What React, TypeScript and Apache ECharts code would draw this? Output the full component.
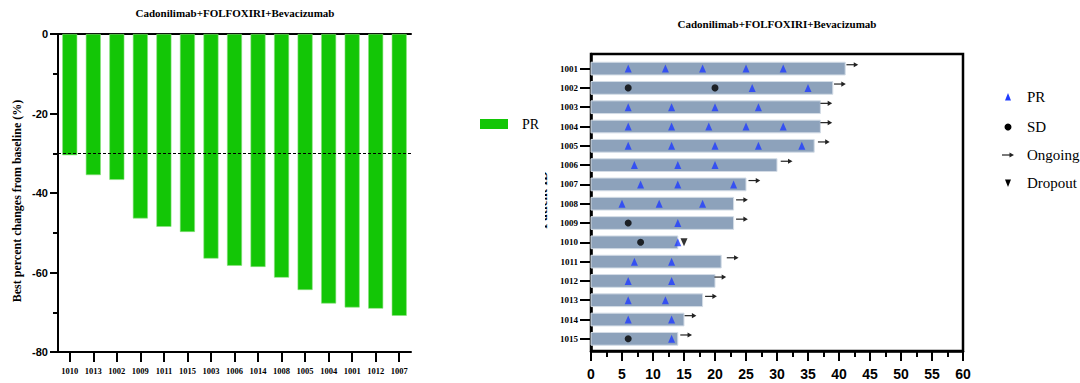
import React, { useEffect, useRef } from "react";
import * as echarts from "echarts";

// ---------- Left: waterfall ----------
const waterfallIds = ["1010", "1013", "1002", "1009", "1011", "1015", "1003", "1006", "1014", "1008", "1005", "1004", "1001", "1012", "1007"];
const bestChange = [-30.5, -35.5, -36.7, -46.4, -48.5, -49.8, -56.5, -58.3, -58.6, -61.3, -64.4, -67.8, -68.8, -69.1, -70.9];
const prThreshold = -30;

// ---------- Right: swimmer ----------
const patientIds = ["1001", "1002", "1003", "1004", "1005", "1006", "1007", "1008", "1009", "1010", "1011", "1012", "1013", "1014", "1015"];
const durations = [41, 39, 37, 37, 36, 30, 25, 23, 23, 14, 21, 20, 18, 15, 14];
const prTimes = [
  [6, 12, 18, 25, 31],
  [26, 35],
  [6, 13, 20, 27],
  [6, 13, 19, 25, 31],
  [6, 13, 20, 27, 34],
  [7, 14, 20],
  [8, 14, 23],
  [5, 11, 18],
  [14],
  [14],
  [7, 13],
  [6, 13],
  [6, 12],
  [6, 13],
  [13],
];
const sdTimes = [[], [6, 20], [], [], [], [], [], [], [6], [8], [], [], [], [], [6]];
const dropoutTimes = [[], [], [], [], [], [], [], [], [], [15], [], [], [], [], []];
const ongoingStart = [41.2, 39.2, 37.0, 37.0, 36.6, 30.6, 25.4, 23.4, 23.4, null, 21.9, 19.9, 18.4, 15.1, 14.4];

const GREEN = "#13c606";
const BLUE = "#1f3cff";
const BAR = "#8da2bb";
const SERIF = "Liberation Serif";
const SANS = "Liberation Sans";

function flatten(times: number[][]) {
  const out: number[][] = [];
  times.forEach((arr, i) => arr.forEach((t) => out.push([t, i + 1])));
  return out;
}

function txt(text: string, x: number, y: number, font: string, align: string, extra: any = {}) {
  return {
    type: "text",
    x,
    y,
    ...extra,
    style: { text, font, fill: "#000", textAlign: align, textVerticalAlign: "middle", align, verticalAlign: "middle" },
  };
}

export default function App() {
  const ref = useRef<HTMLDivElement>(null);
  useEffect(() => {
    if (!ref.current) return;
    const chart = echarts.init(ref.current, undefined, { renderer: "svg" });
    const rowVals = patientIds.map((_, i) => i + 1);
    const arrowData = ongoingStart
      .map((s, i) => (s == null ? null : [s, i + 1]))
      .filter((d) => d != null) as number[][];

    const option: any = {
      animation: false,
      backgroundColor: "#fff",
      grid: [
        { left: 58, right: 669, top: 34, bottom: 31 },
        {
          left: 591,
          right: 117,
          top: 54,
          bottom: 32,
          show: true,
          borderColor: "#000",
          borderWidth: 2.5,
          backgroundColor: "transparent",
        },
      ],
      xAxis: [
        {
          type: "category",
          gridIndex: 0,
          position: "bottom",
          data: waterfallIds,
          axisLine: { show: true, onZero: false, lineStyle: { color: "#000", width: 2 } },
          axisTick: { show: true, alignWithLabel: true, length: 10, lineStyle: { color: "#000", width: 2 } },
          axisLabel: { interval: 0, color: "#000", fontFamily: SERIF, fontWeight: "bold", fontSize: 8.5, margin: 14 },
          splitLine: { show: false },
        },
        {
          type: "category",
          gridIndex: 0,
          position: "top",
          data: waterfallIds,
          axisLine: { show: true, onZero: false, lineStyle: { color: "#000", width: 2 } },
          axisTick: { show: false },
          axisLabel: { show: false },
          splitLine: { show: false },
        },
        {
          type: "value",
          gridIndex: 1,
          min: 0,
          max: 60,
          interval: 5,
          axisLine: { show: true, onZero: false, lineStyle: { color: "#000", width: 2.5 } },
          axisTick: { show: true, length: 10, lineStyle: { color: "#000", width: 2 } },
          minorTick: { show: true, splitNumber: 2, length: 6, lineStyle: { color: "#000", width: 2 } },
          axisLabel: { color: "#000", fontFamily: SANS, fontWeight: "bold", fontSize: 14, margin: 16 },
          splitLine: { show: false },
          minorSplitLine: { show: false },
        },
      ],
      yAxis: [
        {
          type: "value",
          gridIndex: 0,
          min: -80,
          max: 0,
          interval: 20,
          axisLine: { show: true, onZero: false, lineStyle: { color: "#000", width: 2 } },
          axisTick: { show: true, length: 8, lineStyle: { color: "#000", width: 2 } },
          minorTick: { show: true, splitNumber: 2, length: 5, lineStyle: { color: "#000", width: 2 } },
          axisLabel: { color: "#000", fontFamily: SANS, fontWeight: "bold", fontSize: 11, margin: 10 },
          splitLine: { show: false },
          minorSplitLine: { show: false },
        },
        {
          type: "value",
          gridIndex: 1,
          inverse: true,
          min: 0.244,
          max: 15.63,
          axisLine: { show: true, onZero: false, lineStyle: { color: "#000", width: 2.5 } },
          axisTick: { show: true, customValues: rowVals, length: 11, lineStyle: { color: "#000", width: 2 } },
          axisLabel: {
            customValues: rowVals,
            formatter: (v: number) => patientIds[Math.round(v) - 1] ?? "",
            color: "#000",
            fontFamily: SERIF,
            fontWeight: "bold",
            fontSize: 9,
            margin: 13,
          },
          splitLine: { show: false },
        },
      ],
      series: [
        {
          type: "bar",
          name: "PR",
          xAxisIndex: 0,
          yAxisIndex: 0,
          data: bestChange,
          barWidth: 15,
          itemStyle: { color: GREEN, borderColor: "#8be07f", borderWidth: 0.6 },
          markLine: {
            silent: true,
            symbol: "none",
            label: { show: false },
            lineStyle: { color: "#000", width: 1, type: [3, 2] },
            data: [{ yAxis: prThreshold }],
          },
        },
        {
          type: "custom",
          xAxisIndex: 2,
          yAxisIndex: 1,
          encode: { x: 0, y: 1 },
          data: durations.map((d, i) => [d, i + 1]),
          renderItem: (params: any, api: any) => {
            const len = api.value(0);
            const row = api.value(1);
            const s = api.coord([0, row]);
            const e = api.coord([len, row]);
            const h = Math.abs(api.size([0, 1])[1]) * 0.66;
            return {
              type: "rect",
              shape: { x: s[0], y: s[1] - h / 2, width: e[0] - s[0], height: h },
              style: { fill: BAR, stroke: "#d3dce6", lineWidth: 1 },
            };
          },
          z: 2,
        },
        {
          type: "custom",
          xAxisIndex: 2,
          yAxisIndex: 1,
          encode: { x: 0, y: 1 },
          data: arrowData,
          renderItem: (params: any, api: any) => {
            const x0 = api.value(0);
            const row = api.value(1) - 0.2;
            const a = api.coord([x0, row]);
            const b = api.coord([x0 + 1.9, row]);
            return {
              type: "group",
              children: [
                { type: "line", shape: { x1: a[0], y1: a[1], x2: b[0] - 2, y2: b[1] }, style: { stroke: "#222", lineWidth: 1.2 } },
                {
                  type: "polygon",
                  shape: { points: [[b[0], b[1]], [b[0] - 4.5, b[1] - 2.6], [b[0] - 4.5, b[1] + 2.6]] },
                  style: { fill: "#222" },
                },
              ],
            };
          },
          z: 3,
        },
        {
          type: "scatter",
          name: "PR",
          xAxisIndex: 2,
          yAxisIndex: 1,
          data: flatten(prTimes),
          symbol: "triangle",
          symbolSize: [7, 8],
          itemStyle: { color: BLUE },
          z: 4,
        },
        {
          type: "scatter",
          name: "SD",
          xAxisIndex: 2,
          yAxisIndex: 1,
          data: flatten(sdTimes),
          symbol: "circle",
          symbolSize: 7,
          itemStyle: { color: "#000" },
          z: 4,
        },
        {
          type: "scatter",
          name: "Dropout",
          xAxisIndex: 2,
          yAxisIndex: 1,
          data: flatten(dropoutTimes),
          symbol: "triangle",
          symbolRotate: 180,
          symbolSize: [7, 8],
          itemStyle: { color: "#000" },
          z: 4,
        },
      ],
      graphic: [
        txt("Cadonilimab+FOLFOXIRI+Bevacizumab", 235, 13, `bold 11px ${SERIF}`, "center"),
        txt("Cadonilimab+FOLFOXIRI+Bevacizumab", 777, 24, `bold 11px ${SERIF}`, "center"),
        txt("Best percent changes from baseline (%)", 17, 201, `bold 12px ${SERIF}`, "center", { rotation: Math.PI / 2 }),
        // left legend
        { type: "rect", shape: { x: 480, y: 119, width: 28, height: 10 }, style: { fill: GREEN } },
        txt("PR", 522, 124, `14px ${SERIF}`, "left"),
        // partially hidden y-axis title of the swimmer plot
        txt("Patient ID", 542.5, 200, `bold 13px ${SERIF}`, "center", { rotation: Math.PI / 2 }),
        { type: "rect", shape: { x: 530, y: 140, width: 15, height: 120 }, style: { fill: "#fff" } },
        // right legend
        { type: "polygon", shape: { points: [[1008, 93], [1011, 100.5], [1005, 100.5]] }, style: { fill: BLUE } },
        { type: "circle", shape: { cx: 1008, cy: 127, r: 3.5 }, style: { fill: "#000" } },
        { type: "line", shape: { x1: 1002, y1: 155, x2: 1012, y2: 155 }, style: { stroke: "#222", lineWidth: 1.2 } },
        { type: "polygon", shape: { points: [[1014, 155], [1009.5, 152.4], [1009.5, 157.6]] }, style: { fill: "#222" } },
        { type: "polygon", shape: { points: [[1005, 179.5], [1011, 179.5], [1008, 187]] }, style: { fill: "#000" } },
        ...["PR", "SD", "Ongoing", "Dropout"].map((t, i) => txt(t, 1027, [97, 127, 155, 183][i], `15px ${SERIF}`, "left")),
      ],
    };
    chart.setOption(option);
    return () => chart.dispose();
  }, []);
  return (
    <div
      ref={ref}
      style={{ position: "fixed", left: 0, top: 0, width: 1080, height: 383, background: "#fff" }}
    />
  );
}
